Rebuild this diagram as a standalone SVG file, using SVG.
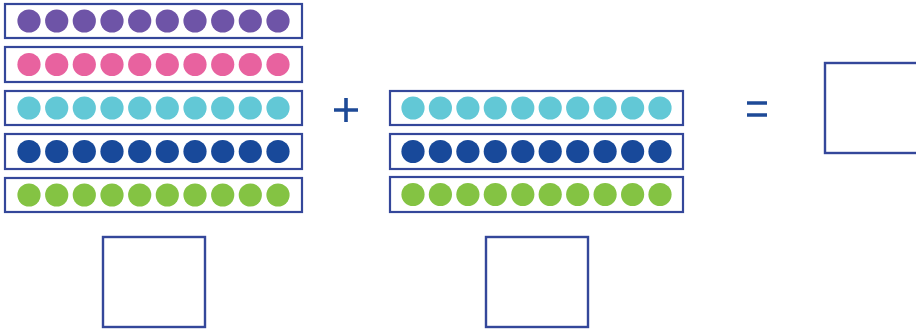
<svg xmlns="http://www.w3.org/2000/svg" xmlns:xlink="http://www.w3.org/1999/xlink" width="916" height="331" viewBox="0 0 916 331">
<style>
.frame{fill:#fff;stroke:#34479a;stroke-width:2.2}
.box{fill:#fff;stroke:#34479a;stroke-width:2.4}
.op{stroke:#1e4a97;stroke-width:3.6;fill:none}
.purple{fill:#6e54a7}
.pink{fill:#e8629f}
.cyan{fill:#62c8d6}
.navy{fill:#18499a}
.green{fill:#84c343}
</style>
<defs>
<g id="dotsL">
<circle cx="29" cy="0" r="11.6"/><circle cx="56.7" cy="0" r="11.6"/><circle cx="84.3" cy="0" r="11.6"/><circle cx="112" cy="0" r="11.6"/><circle cx="139.7" cy="0" r="11.6"/><circle cx="167.3" cy="0" r="11.6"/><circle cx="195" cy="0" r="11.6"/><circle cx="222.7" cy="0" r="11.6"/><circle cx="250.3" cy="0" r="11.6"/><circle cx="278" cy="0" r="11.6"/>
</g>
<g id="dotsM">
<circle cx="413" cy="0" r="11.6"/><circle cx="440.4" cy="0" r="11.6"/><circle cx="467.9" cy="0" r="11.6"/><circle cx="495.3" cy="0" r="11.6"/><circle cx="522.8" cy="0" r="11.6"/><circle cx="550.2" cy="0" r="11.6"/><circle cx="577.7" cy="0" r="11.6"/><circle cx="605.1" cy="0" r="11.6"/><circle cx="632.6" cy="0" r="11.6"/><circle cx="660" cy="0" r="11.6"/>
</g>
</defs>
<rect width="916" height="331" fill="#fff"/>
<g id="left-frames">
<g id="L1"><rect class="frame" x="5" y="4" width="297" height="34"/><use xlink:href="#dotsL" class="purple" y="21"/></g>
<g id="L2"><rect class="frame" x="5" y="47" width="297" height="35"/><use xlink:href="#dotsL" class="pink" y="64.5"/></g>
<g id="L3"><rect class="frame" x="5" y="91" width="297" height="34"/><use xlink:href="#dotsL" class="cyan" y="108"/></g>
<g id="L4"><rect class="frame" x="5" y="134" width="297" height="35"/><use xlink:href="#dotsL" class="navy" y="151.5"/></g>
<g id="L5"><rect class="frame" x="5" y="178" width="297" height="34"/><use xlink:href="#dotsL" class="green" y="195"/></g>
</g>
<g id="plus"><path class="op" d="M334 110H358M346 98V122"/></g>
<g id="middle-frames">
<g id="M1"><rect class="frame" x="390" y="91" width="293" height="34"/><use xlink:href="#dotsM" class="cyan" y="108"/></g>
<g id="M2"><rect class="frame" x="390" y="134" width="293" height="35"/><use xlink:href="#dotsM" class="navy" y="151.5"/></g>
<g id="M3"><rect class="frame" x="390" y="177" width="293" height="35"/><use xlink:href="#dotsM" class="green" y="194.5"/></g>
</g>
<g id="equals"><path class="op" d="M747 103H767M747 115H767"/></g>
<g id="answer-box"><rect class="box" x="825" y="63" width="100" height="90"/></g>
<g id="box-left"><rect class="box" x="103" y="237" width="102" height="90"/></g>
<g id="box-middle"><rect class="box" x="486" y="237" width="102" height="90"/></g>
</svg>
